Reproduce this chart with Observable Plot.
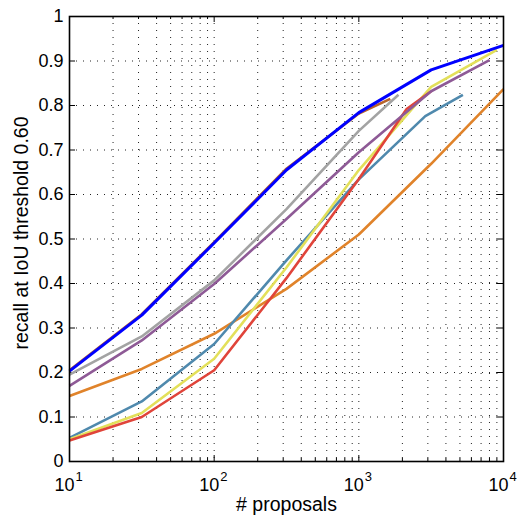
<!DOCTYPE html>
<html><head><meta charset="utf-8">
<script src="https://cdn.jsdelivr.net/npm/d3@7"></script>
<script src="https://cdn.jsdelivr.net/npm/@observablehq/plot@0.6"></script>
<style>
html,body{margin:0;padding:0;background:#fff;}
#chart{width:518px;height:517px;}
</style></head><body><div id="chart"></div>
<script>
// ---- data ----
const blueX   = [10, 31.6, 100, 316, 1000, 3162, 10000];
const blueY   = [0.203, 0.329, 0.491, 0.655, 0.784, 0.880, 0.935];
const brownX  = [10, 31.6, 100, 316, 1000, 1650];
const brownY  = [0.205, 0.331, 0.493, 0.658, 0.782, 0.815];
const grayX   = [10, 31.6, 100, 316, 1000, 1880];
const grayY   = [0.195, 0.281, 0.407, 0.567, 0.743, 0.824];
const purpleX = [10, 31.6, 100, 316, 1000, 3162, 8000];
const purpleY = [0.170, 0.272, 0.399, 0.545, 0.695, 0.832, 0.902];
const orangeX = [10, 31.6, 100, 316, 1000, 3162, 10000];
const orangeY = [0.147, 0.208, 0.287, 0.388, 0.510, 0.669, 0.837];
const tealX   = [10, 31.6, 100, 316, 1000, 2880, 5240];
const tealY   = [0.053, 0.135, 0.264, 0.452, 0.634, 0.776, 0.824];
const yellowX = [10, 31.6, 100, 316, 1000, 3162, 9000];
const yellowY = [0.050, 0.109, 0.231, 0.436, 0.655, 0.842, 0.925];
const redX    = [10, 31.6, 100, 316, 1000, 2140, 3162];
const redY    = [0.047, 0.100, 0.205, 0.412, 0.635, 0.792, 0.832];

const seriesNames  = ["orange", "teal", "yellow", "red", "purple", "gray", "brown", "blue"];
const seriesColors = ["#e0832a", "#4f89ad", "#e3e05a", "#e0443a", "#8e5a96", "#a3a3a3", "#b8632a", "#0000ff"];
const seriesWidths = [2.6, 2.6, 2.6, 2.6, 2.6, 2.6, 2.6, 3];
const seriesData = {
  blue: [blueX, blueY], brown: [brownX, brownY], gray: [grayX, grayY], purple: [purpleX, purpleY],
  orange: [orangeX, orangeY], teal: [tealX, tealY], yellow: [yellowX, yellowY], red: [redX, redY]
};

const yTicks = [0, 0.1, 0.2, 0.3, 0.4, 0.5, 0.6, 0.7, 0.8, 0.9, 1];
const yTickLabels = ["0", "0.1", "0.2", "0.3", "0.4", "0.5", "0.6", "0.7", "0.8", "0.9", "1"];
const xTicks = [10, 100, 1000, 10000];
const xTickBase = ["10", "10", "10", "10"];
const xTickExp = ["1", "2", "3", "4"];
const xLabel = "# proposals";
const yLabel = "recall at IoU threshold 0.60";

// ---- chart ----
const W = 518, H = 517;
const M = {top: 16, right: 15, bottom: 56, left: 69};
const plotW = W - M.left - M.right, plotH = H - M.top - M.bottom;
const xMinor = [1, 2, 3].flatMap(e => d3.range(2, 10).map(m => m * 10 ** e));
const xInner = [100, 1000];
const font = "'Liberation Sans', Arial, Helvetica, sans-serif";
const gridStyle = {stroke: "#222", strokeWidth: 1, strokeDasharray: "1,6"};

const lineMarks = seriesNames.map((name, k) => {
  const [xs, ys] = seriesData[name];
  const rows = xs.map((x, i) => ({x, y: ys[i]}));
  return Plot.line(rows, {x: "x", y: "y", stroke: seriesColors[k], strokeWidth: seriesWidths[k], strokeLinejoin: "round", strokeLinecap: "butt"});
});

const chart = Plot.plot({
  width: W, height: H,
  marginTop: M.top, marginRight: M.right, marginBottom: M.bottom, marginLeft: M.left,
  style: {fontFamily: font, background: "#fff", color: "#000"},
  x: {type: "log", domain: [10, 10000], axis: null},
  y: {domain: [0, 1], axis: null},
  marks: [
    // dotted grid
    Plot.ruleX(xMinor.concat(xInner), gridStyle),
    Plot.ruleY(yTicks.slice(1, -1), gridStyle),
    // inward tick marks
    Plot.ruleX(xTicks, {stroke: "#000", insetTop: plotH - 6}),
    Plot.ruleX(xTicks, {stroke: "#000", insetBottom: plotH - 6}),
    Plot.ruleX(xMinor, {stroke: "#000", insetTop: plotH - 3}),
    Plot.ruleX(xMinor, {stroke: "#000", insetBottom: plotH - 3}),
    Plot.ruleY(yTicks, {stroke: "#000", insetRight: plotW - 6}),
    Plot.ruleY(yTicks, {stroke: "#000", insetLeft: plotW - 6}),
    ...lineMarks,
    Plot.frame({stroke: "#000", strokeWidth: 1.6}),
    // tick labels
    Plot.text(yTicks, {y: d => d, text: (d, i) => yTickLabels[i], frameAnchor: "left", textAnchor: "end", lineAnchor: "middle", dx: -6, fontSize: 18, fill: "#000"}),
    Plot.text(xTicks, {x: d => d, text: (d, i) => xTickBase[i], frameAnchor: "bottom", textAnchor: "end", lineAnchor: "bottom", dx: 5, dy: 29, fontSize: 18, fill: "#000"}),
    Plot.text(xTicks, {x: d => d, text: (d, i) => xTickExp[i], frameAnchor: "bottom", textAnchor: "start", lineAnchor: "bottom", dx: 6, dy: 19, fontSize: 13, fill: "#000"}),
    // axis labels
    Plot.text([xLabel], {text: d => d, frameAnchor: "bottom", textAnchor: "middle", lineAnchor: "bottom", dy: 49, fontSize: 19.5, fill: "#000"}),
    Plot.text([yLabel], {text: d => d, frameAnchor: "left", textAnchor: "middle", lineAnchor: "middle", rotate: -90, dx: -48, dy: -6, fontSize: 19.5, fill: "#000"})
  ]
});
document.getElementById("chart").appendChild(chart);
</script>
</body></html>
